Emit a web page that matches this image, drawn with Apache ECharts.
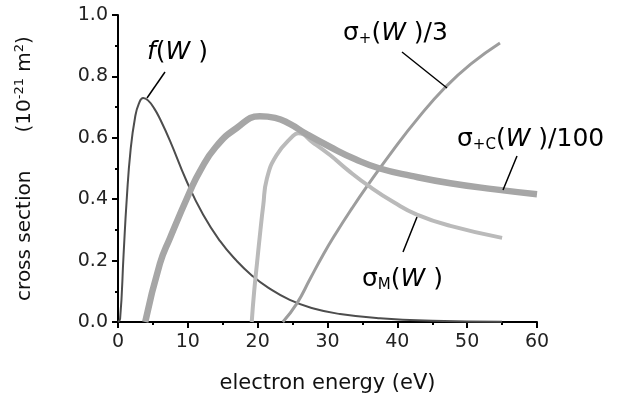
<!DOCTYPE html>
<html>
<head>
<meta charset="utf-8">
<script src="https://cdn.jsdelivr.net/npm/echarts@6/dist/echarts.min.js"></script>
<style>
  html, body { margin: 0; padding: 0; background: #fff; }
  #main { width: 619px; height: 399px; }
</style>
</head>
<body>
<div id="main"></div>
<script>
// values: [electron energy (eV), cross section]
var fW = [[0, 0], [0.3, 0.01], [0.8, 0.22], [1.25, 0.40], [1.8, 0.56], [2.45, 0.667], [3, 0.712],
  [3.6, 0.73], [4.3, 0.722], [5.2, 0.695], [6, 0.662], [7.45, 0.59], [9.8, 0.46], [12.2, 0.349],
  [14.6, 0.264], [17, 0.199], [19.2, 0.151], [21.5, 0.112], [24.6, 0.072], [28, 0.044],
  [31.8, 0.026], [37.5, 0.012], [45, 0.004], [55, 0.001]];
var sigmaPlusC = [[3.9, 0], [6, 0.19], [7.45, 0.274], [10.3, 0.425], [11.7, 0.49], [14, 0.57],
  [17, 0.632], [20.3, 0.67], [22.5, 0.665], [24.6, 0.645], [27, 0.612], [30.4, 0.57],
  [34, 0.53], [37.5, 0.50], [42, 0.476], [47.6, 0.452], [54, 0.432], [60, 0.416]];
var sigmaM = [[19.15, 0], [19.5, 0.10], [19.9, 0.19], [20.4, 0.30], [20.8, 0.38], [21.3, 0.465],
  [22.7, 0.543], [25.1, 0.607], [25.8, 0.615], [28, 0.583], [30.4, 0.543], [33, 0.493],
  [36.1, 0.44], [39.5, 0.39], [42.8, 0.35], [47.6, 0.313], [55, 0.274]];
var sigmaPlus = [[23.6, 0], [25.6, 0.06], [27.5, 0.14], [29.4, 0.22], [31.1, 0.285], [33.5, 0.37],
  [35.6, 0.44], [39.4, 0.56], [43, 0.665], [46.8, 0.763], [50.5, 0.84], [54.7, 0.909]];
var xTicks = [0, 10, 20, 30, 40, 50, 60];
var yTicks = [0, 0.2, 0.4, 0.6, 0.8, 1.0];

var FONT = "DejaVu Sans";
var chart = echarts.init(document.getElementById("main"));

var axisCommon = {
  axisLine: { show: true, lineStyle: { color: "#000", width: 2 } },
  axisTick: { show: true, inside: false, length: 6, lineStyle: { color: "#000", width: 2 } },
  minorTick: { show: true, splitNumber: 2, length: 3, lineStyle: { color: "#000", width: 2 } },
  splitLine: { show: false },
  axisLabel: { color: "#222", fontSize: 19, fontFamily: FONT }
};

function curve(name, data, color, width) {
  return {
    name: name, type: "line", data: data, smooth: 0.5,
    showSymbol: false, symbol: "none",
    lineStyle: { color: color, width: width, cap: "butt", join: "round" }, z: 2
  };
}

var textRich = {
  n: { fontSize: 25, fontFamily: FONT, color: "#111" },
  i: { fontSize: 25, fontFamily: FONT, fontStyle: "italic", color: "#111" },
  sub: { fontSize: 15, fontFamily: FONT, color: "#111", verticalAlign: "bottom", padding: [13, 0, 0, 0] }
};

function label(x, y, txt) {
  return {
    type: "text", x: x, y: y, z: 10,
    style: { text: txt, rich: textRich, verticalAlign: "middle", align: "left", font: "25px " + FONT }
  };
}
function leader(x1, y1, x2, y2) {
  return {
    type: "line", z: 10,
    shape: { x1: x1, y1: y1, x2: x2, y2: y2 },
    style: { stroke: "#000", lineWidth: 1.5 }
  };
}

chart.setOption({
  animation: false,
  grid: { left: 118, right: 82, top: 15, bottom: 74, containLabel: false },
  xAxis: Object.assign({}, axisCommon, {
    type: "value", min: xTicks[0], max: xTicks[xTicks.length - 1], interval: 10,
    name: "electron energy (eV)", nameLocation: "middle", nameGap: 51,
    nameTextStyle: { fontSize: 21, fontFamily: FONT, color: "#111" },
    axisLabel: Object.assign({}, axisCommon.axisLabel, { margin: 11 })
  }),
  yAxis: Object.assign({}, axisCommon, {
    type: "value", min: yTicks[0], max: yTicks[yTicks.length - 1], interval: 0.2,
    name: "{n|cross section      (10}{sup|-21}{n| m}{sup|2}{n|)}",
    nameLocation: "middle", nameGap: 82,
    nameTextStyle: {
      fontSize: 20, fontFamily: FONT, color: "#111",
      rich: {
        n: { fontSize: 20, fontFamily: FONT, color: "#111" },
        sup: { fontSize: 13, fontFamily: FONT, color: "#111", verticalAlign: "top", padding: [0, 0, 10, 0] }
      }
    },
    axisLabel: Object.assign({}, axisCommon.axisLabel, {
      margin: 10,
      formatter: function (v) { return v.toFixed(1); }
    })
  }),
  series: [
    curve("f(W)", fW, "#4d4d4d", 2),
    curve("sigmaPlus/3", sigmaPlus, "#9d9d9d", 3),
    curve("sigmaM", sigmaM, "#bababa", 4),
    curve("sigmaPlusC/100", sigmaPlusC, "#a6a6a6", 6.5)
  ],
  graphic: [
    label(147, 52, "{i|f}{n|(}{i|W}{n| )}"),
    label(343, 33, "{n|σ}{sub|+}{n|(}{i|W}{n| )/3}"),
    label(457, 139, "{n|σ}{sub|+C}{n|(}{i|W}{n| )/100}"),
    label(362, 279, "{n|σ}{sub|M}{n|(}{i|W}{n| )}"),
    leader(165, 72, 147, 98),
    leader(402, 52, 447, 88),
    leader(517, 156, 503, 190),
    leader(417, 217, 403, 252)
  ]
});
</script>
</body>
</html>
